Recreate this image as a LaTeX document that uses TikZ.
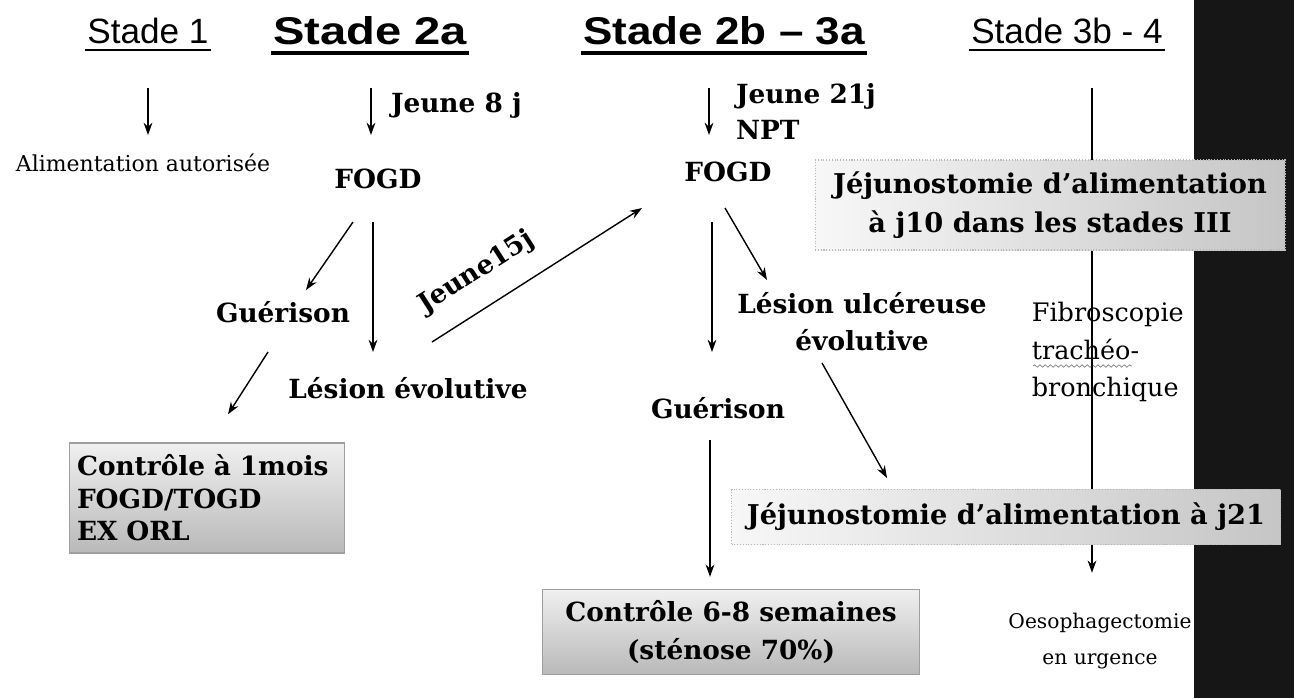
\documentclass[tikz,border=0pt]{standalone}
\usepackage{fontspec}
\usepackage{graphicx}
\setmainfont{DejaVu Serif}
\newfontfamily\headfont{Liberation Sans}
\usetikzlibrary{arrows.meta, positioning, calc, decorations.pathmorphing}
\definecolor{barblack}{RGB}{22, 22, 22}

\begin{document}
\begin{tikzpicture}[x=0.02cm, y=-0.02cm,
  arr/.style={-{Stealth[length=7pt, width=5pt]}, line width=0.8pt},
  stage/.style={font=\headfont\fontsize{20}{24}\selectfont, inner sep=1pt, anchor=base},
  stagebold/.style={font=\headfont\bfseries\fontsize{22}{26}\selectfont, inner sep=1pt, anchor=base},
  lbl/.style={font=\bfseries\fontsize{15}{21}\selectfont, align=center, inner sep=2pt},
  plain/.style={font=\fontsize{12.5}{21}\selectfont, align=center, inner sep=2pt},
  vbox/.style={draw=gray!75, line width=0.8pt, top color=gray!12, bottom color=gray!55},
  hbox/.style={draw=gray!55, densely dotted, line width=0.6pt, left color=gray!6, right color=gray!45}
]
  \useasboundingbox (0,0) rectangle (1294,698);
  % dark strip on the right
  \fill[barblack] (1194,0) rectangle (1294,698);

  % Stage headings
  \node[stage] (s1) at (148,43) {Stade 1};
  \node[stagebold] (s2a) at (370,44) {\scalebox{1.22}[1]{Stade 2a}};
  \node[stagebold] (s2b) at (724,44) {\scalebox{1.14}[1]{Stade 2b – 3a}};
  \node[stage] (s34) at (1067,43) {Stade 3b - 4};
  \draw[line width=1.6pt] ([yshift=-4pt]s1.base west) -- ([yshift=-4pt]s1.base east);
  \draw[line width=2.6pt] ([yshift=-5pt]s2a.base west) -- ([yshift=-5pt]s2a.base east);
  \draw[line width=2.6pt] ([yshift=-5pt]s2b.base west) -- ([yshift=-5pt]s2b.base east);
  \draw[line width=1.6pt] ([yshift=-4pt]s34.base west) -- ([yshift=-4pt]s34.base east);

  % Stade 1
  \node[plain] (alim) at (143,163) {Alimentation autorisée};

  % Stade 2a
  \node[lbl] (fogdA) at (378,179) {FOGD};
  \node[lbl] (gueA) at (283,312) {Guérison};
  \node[lbl] (lesA) at (408,388) {Lésion évolutive};
  \node[vbox, minimum width=5.5cm, minimum height=2.2cm, text width=5.2cm, align=left,
        font=\bfseries\fontsize{15}{18.5}\selectfont] (ctrlA) at (207,498)
        {Contrôle à 1mois\\FOGD/TOGD\\EX ORL};

  % Stade 2b - 3a
  \node[lbl] (fogdB) at (728,172) {FOGD};
  \node[lbl] (ulc) at (862,322) {Lésion ulcéreuse\\évolutive};
  \node[lbl] (gueB) at (718,408) {Guérison};
  \node[vbox, minimum width=7.54cm, minimum height=1.7cm,
        font=\bfseries\fontsize{15}{22}\selectfont, align=center] (ctrlB) at (731,632)
        {Contrôle 6-8 semaines\\(sténose 70\%)};

  % Stade 3b - 4 : long line first, boxes on top of it
  \node[plain, font=\fontsize{14.5}{21.5}\selectfont, align=left, anchor=west] (fibro) at (1028,352)
        {Fibroscopie\\trachéo-\\bronchique};
  \draw[gray, decorate, decoration={snake, amplitude=0.7pt, segment length=3pt}]
        ($(fibro.west)+(5,14)$) -- ($(fibro.west)+(104,14)$);
  \node[plain, font=\fontsize{11.5}{21}\selectfont] (oeso) at (1100,641) {Oesophagectomie\\en urgence};
  \draw[arr] ($(s34.base)+(25,45)$) -- ($(oeso.north)+(-8,-36)$);

  \node[hbox, minimum width=9.4cm, minimum height=1.8cm,
        font=\bfseries\fontsize{15.5}{22}\selectfont, align=center] (j10) at (1050,205)
        {Jéjunostomie d’alimentation\\à j10 dans les stades III};
  \node[hbox, minimum width=10.98cm, minimum height=1.1cm,
        font=\bfseries\fontsize{15.5}{22}\selectfont] (j21) at (1006,517)
        {Jéjunostomie d’alimentation à j21};

  % Arrows
  \draw[arr] ($(s1.base)+(0,45)$) -- ($(alim)+(5,-28)$);
  \draw[arr] ($(s2a.base)+(1,44)$) -- ($(fogdA)+(-7,-44)$)
        node[lbl, pos=.38, right=9pt] (j8) {Jeune 8 j};
  \draw[arr] ($(s2b.base)+(-15,44)$) -- ($(fogdB)+(-19,-37)$)
        node[lbl, pos=.5, right=13pt, align=left] (j21n) {Jeune 21j\\NPT};
  \draw[arr] ($(fogdA)+(-25,43)$) -- ($(gueA)+(23,-22)$);
  \draw[arr] ($(fogdA)+(-5,43)$) -- ($(lesA)+(-35,-36)$);
  \draw[arr] ($(gueA)+(-15,40)$) -- ($(ctrlA.north)+(21,-28)$);
  \draw[arr] ($(lesA)+(24,-46)$) -- ($(fogdB)+(-86,36)$)
        node[lbl, pos=.3, sloped, above=10pt] (j15) {Jeune15j};
  \draw[arr] ($(fogdB)+(-16,50)$) -- ($(gueB)+(-6,-56)$);
  \draw[arr] ($(fogdB)+(-3,36)$) -- ($(ulc)+(-95,-42)$);
  \draw[arr] ($(ulc)+(-40,41)$) -- ($(j21)+(-119,-39)$);
  \draw[arr] ($(gueB)+(-8,32)$) -- ($(ctrlB.north)+(-21,-12)$);
\end{tikzpicture}
\end{document}
